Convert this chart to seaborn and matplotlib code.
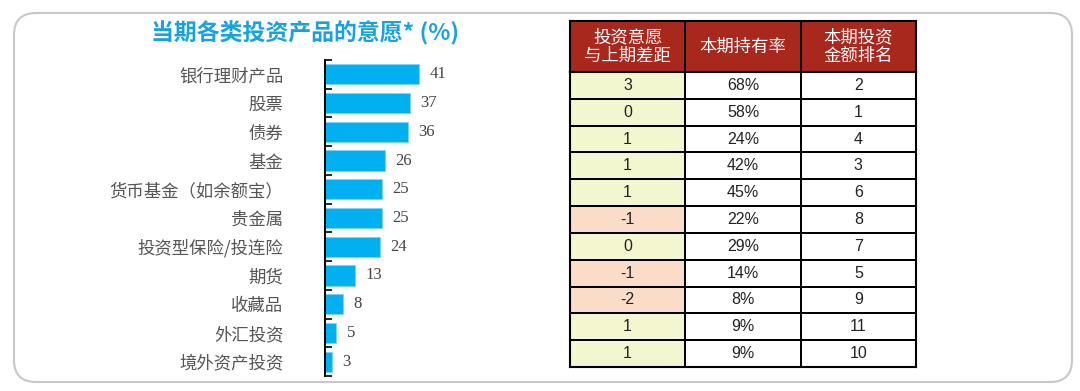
import numpy as np
import pandas as pd
import matplotlib
matplotlib.use("Agg")
import matplotlib.pyplot as plt
from matplotlib.colors import ListedColormap
from matplotlib.patches import FancyBboxPatch
import seaborn as sns

products = ["银行理财产品", "股票", "债券", "基金", "货币基金（如余额宝）", "贵金属",
            "投资型保险/投连险", "期货", "收藏品", "外汇投资", "境外资产投资"]
willingness = [41, 37, 36, 26, 25, 25, 24, 13, 8, 5, 3]

change = [3, 0, 1, 1, 1, -1, 0, -1, -2, 1, 1]
holding = ["68%", "58%", "24%", "42%", "45%", "22%", "29%", "14%", "8%", "9%", "9%"]
amount_rank = [2, 1, 4, 3, 6, 8, 7, 5, 9, 11, 10]
headers = ["投资意愿\n与上期差距", "本期持有率", "本期投资\n金额排名"]

sns.set_theme(style="white")
plt.rcParams['font.family'] = ['Noto Sans CJK SC', 'DejaVu Sans']

W, H = 1080, 391
fig = plt.figure(figsize=(W / 100, H / 100), dpi=100)

# rounded frame
frame = FancyBboxPatch((0.14, 0.09), 10.58, 3.69, boxstyle="round,pad=0,rounding_size=0.22",
                       transform=fig.dpi_scale_trans, facecolor="white",
                       edgecolor="#c8c8c8", lw=1.5, zorder=0)
fig.add_artist(frame)

# bar chart
ax = fig.add_axes([325 / W, (H - 376) / H, (545 - 325) / W, (376 - 60) / H])
df = pd.DataFrame({"product": products, "value": willingness})
sns.barplot(data=df, x="value", y="product", color="#00b0f0", width=0.7,
            edgecolor="#7fd3f5", linewidth=0.6, saturation=1, ax=ax)
ax.set_xlim(0, 96)
ax.set_ylim(len(products) - 0.5, -0.5)
ax.set_facecolor("none")
for s in ["top", "right", "bottom"]:
    ax.spines[s].set_visible(False)
ax.spines["left"].set_color("black")
ax.spines["left"].set_linewidth(1.4)
ax.set_xticks([])
ax.set_xlabel("")
ax.set_ylabel("")
ax.set_yticks(np.arange(len(products)))
ax.set_yticklabels(products, fontsize=12.5, color="#555555")
ax.set_yticks(np.arange(len(products) + 1) - 0.5, minor=True)
ax.tick_params(axis="y", which="major", left=True, length=0, pad=30)
ax.tick_params(axis="y", which="minor", left=True, direction="in", length=5, width=1.2,
               color="black")
for i, v in enumerate(willingness):
    ax.text(v + 4.5, i, str(v), va="center", ha="left", fontsize=12,
            family="Liberation Serif", color="#444444")

fig.text(305 / W, (H - 33) / H, "当期各类投资产品的意愿* (%)", ha="center", va="center",
         fontsize=16.5, fontweight="bold", color="#19a3dc")

# table header
hax = fig.add_axes([570 / W, (H - 72) / H, (916 - 570) / W, (72 - 21) / H])
sns.heatmap(np.zeros((1, 3)), cmap=ListedColormap(["#a8281e"]), cbar=False,
            annot=np.array([headers]), fmt="", linewidths=1.1, linecolor="black",
            annot_kws={"color": "white", "fontsize": 12.5, "linespacing": 1.05},
            xticklabels=False, yticklabels=False, ax=hax)

# table body
body_vals = np.array([[1 if c >= 0 else 2, 0, 0] for c in change])
body_text = np.array([[str(c), h, str(r)] for c, h, r in zip(change, holding, amount_rank)])
bax = fig.add_axes([570 / W, (H - 367) / H, (916 - 570) / W, (367 - 72) / H])
sns.heatmap(body_vals, cmap=ListedColormap(["white", "#f2f7d0", "#fbdcc9"]), vmin=0, vmax=2,
            cbar=False, annot=body_text, fmt="", linewidths=1.1, linecolor="black",
            annot_kws={"color": "#222222", "fontsize": 11.5, "family": "Liberation Sans"},
            xticklabels=False, yticklabels=False, ax=bax)
for a in (hax, bax):
    for s in a.spines.values():
        s.set_visible(True)
        s.set_color("black")
        s.set_linewidth(1.5)

fig.savefig("out.png", dpi=100)
